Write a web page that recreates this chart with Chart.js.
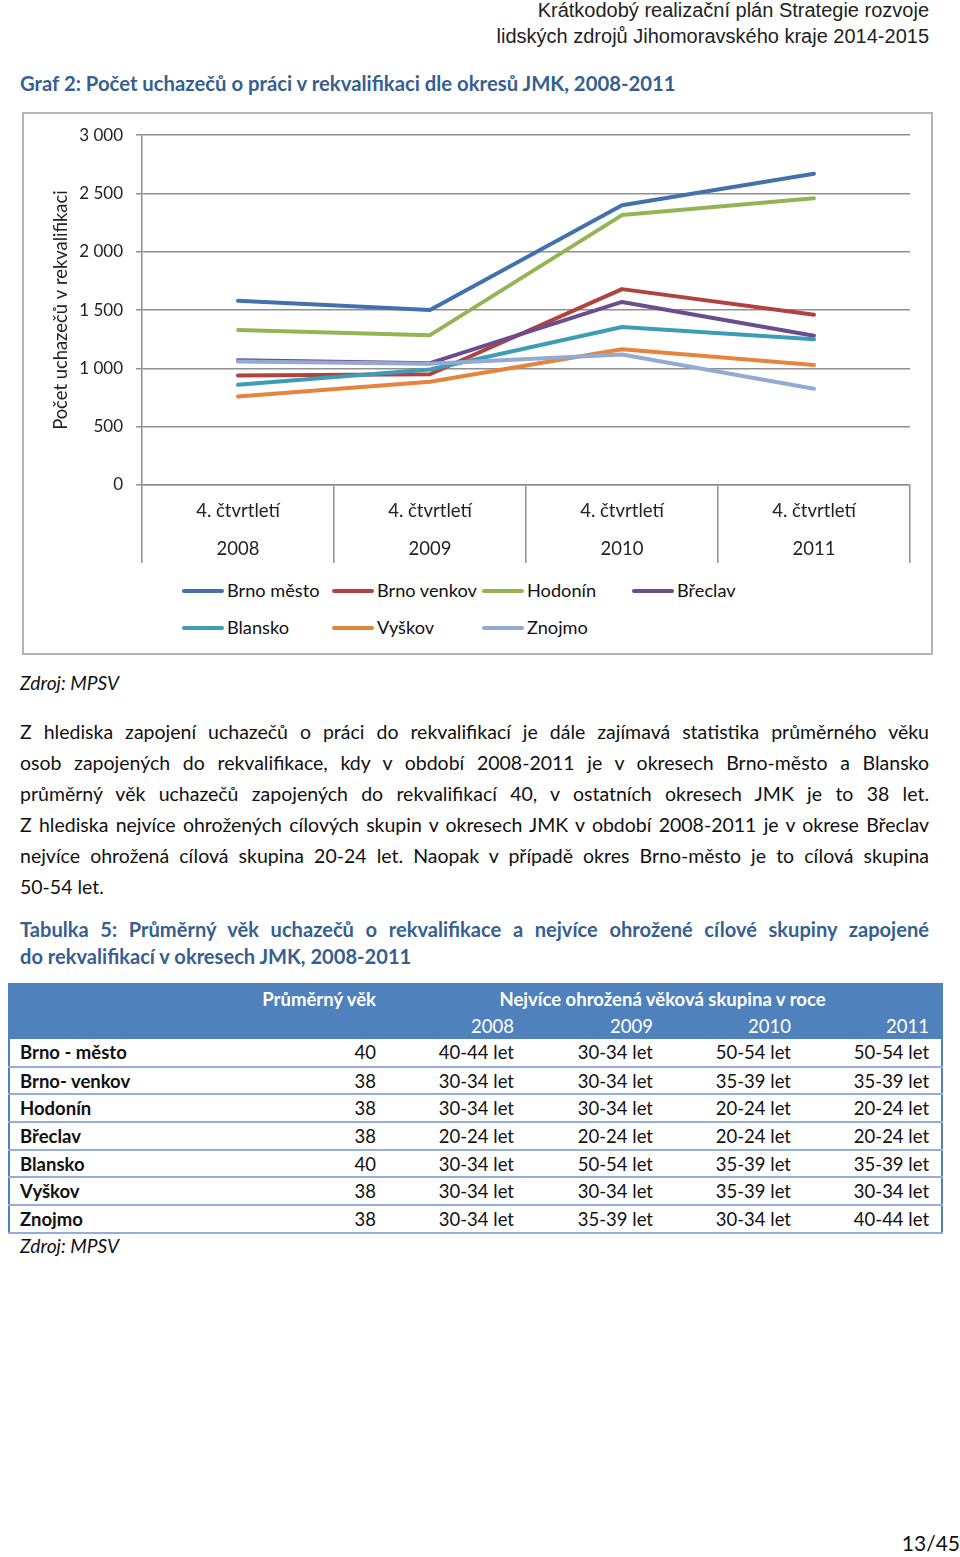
<!DOCTYPE html>
<html lang="cs">
<head>
<meta charset="utf-8">
<script src="https://cdn.jsdelivr.net/npm/chart.js@4.4.0/dist/chart.umd.min.js"></script>
<style>
  html, body { margin: 0; padding: 0; background: #fff; }
  body { width: 960px; height: 1557px; position: relative; overflow: hidden;
         font-family: Lato, "Open Sans", sans-serif; color: #111; }
  .abs { position: absolute; white-space: nowrap; }
  .hdr { right: 31px; font-family: "Liberation Sans Narrow", "Liberation Sans", sans-serif;
         font-size: 20px; line-height: 30px; color: #222; }
  .blue { color: #365F91; font-weight: bold; }
  .src { left: 20px; font-style: italic; font-size: 19.2px; line-height: 30px; }
  #chartBox { position: absolute; left: 22px; top: 112px; width: 907px; height: 539px;
              border: 2px solid #b4b4b4; }
  #chartWrap { position: absolute; left: 22px; top: 112px; width: 911px; height: 460px; }
  #legend { position: absolute; left: 182px; top: 575px; width: 600px; }
  .lg { position: absolute; height: 30px; line-height: 30px; font-size: 18.2px; white-space: nowrap; }
  .lg i { display: inline-block; width: 42px; height: 4px; border-radius: 2px;
          vertical-align: middle; margin-right: 3px; position: relative; top: -1px; }
  #para { position: absolute; left: 20px; top: 716px; width: 909px; font-size: 19.5px; line-height: 31px; }
  #para div { text-align: justify; text-align-last: justify; white-space: nowrap; }
  #para div.last { text-align-last: left; }
  #ttitle { position: absolute; left: 20px; top: 916px; width: 909px; font-size: 20.1px; line-height: 27px; }
  #ttitle div { text-align: justify; text-align-last: justify; white-space: nowrap; }
  #ttitle div.last { text-align-last: left; }
  table { position: absolute; left: 8px; top: 983px; border-collapse: collapse; table-layout: fixed;
          width: 933px; font-size: 18.5px; border: 2px solid #4F81BD; }
  td, th { padding: 0 10px; white-space: nowrap; overflow: visible; line-height: 22px; }
  td:last-child, th:last-child { padding-right: 12px; }
  thead tr { background: #4F81BD; color: #fff; }
  thead tr.r1 { height: 28px; }
  thead tr.r2 { height: 27px; }
  thead th { font-weight: bold; }
  thead tr.r2 th { font-weight: normal; text-align: right; }
  tbody tr { height: 27.7px; border-bottom: 2px solid #93AEDB; }
  tbody td { text-align: right; }
  tbody td.nm { text-align: left; font-weight: bold; padding-left: 10px; }
</style>
</head>
<body>
<div class="abs hdr" style="top:-5px">Krátkodobý realizační plán Strategie rozvoje</div>
<div class="abs hdr" style="top:21px">lidských zdrojů Jihomoravského kraje 2014-2015</div>

<div class="abs blue" style="left:20px; top:68px; font-size:20.3px; line-height:30px">Graf 2: Počet uchazečů o práci v rekvalifikaci dle okresů JMK, 2008-2011</div>

<div id="chartBox"></div>
<div id="chartWrap"><canvas id="chart" width="911" height="460"></canvas></div>
<div id="legend"></div>

<div class="abs src" style="top:668px">Zdroj: MPSV</div>

<div id="para">
  <div>Z hlediska zapojení uchazečů o práci do rekvalifikací je dále zajímavá statistika průměrného věku</div>
  <div>osob zapojených do rekvalifikace, kdy v období 2008-2011 je v okresech Brno-město a Blansko</div>
  <div>průměrný věk uchazečů zapojených do rekvalifikací 40, v ostatních okresech JMK je to 38 let.</div>
  <div>Z hlediska nejvíce ohrožených cílových skupin v okresech JMK v období 2008-2011 je v okrese Břeclav</div>
  <div>nejvíce ohrožená cílová skupina 20-24 let. Naopak v případě okres Brno-město je to cílová skupina</div>
  <div class="last">50-54 let.</div>
</div>

<div id="ttitle" class="blue">
  <div>Tabulka 5: Průměrný věk uchazečů o rekvalifikace a nejvíce ohrožené cílové skupiny zapojené</div>
  <div class="last">do rekvalifikací v okresech JMK, 2008-2011</div>
</div>

<table id="tbl">
  <colgroup>
    <col style="width:232px"><col style="width:145px"><col style="width:138px">
    <col style="width:139px"><col style="width:138px"><col style="width:141px">
  </colgroup>
  <thead></thead>
  <tbody></tbody>
</table>

<div class="abs src" style="top:1231px">Zdroj: MPSV</div>
<div class="abs" style="right:0; top:1528px; font-size:21px; line-height:30px">13/45</div>

<script>
// Chart data: 4th quarter of each year
const years = ['2008', '2009', '2010', '2011'];
const quarterLabel = '4. čtvrtletí';
const districts = ['Brno město', 'Brno venkov', 'Hodonín', 'Břeclav', 'Blansko', 'Vyškov', 'Znojmo'];

const brnoMesto  = [1580, 1500, 2400, 2670];
const brnoVenkov = [940, 950, 1680, 1460];
const hodonin    = [1330, 1285, 2315, 2460];
const breclav    = [1070, 1045, 1570, 1280];
const blansko    = [860, 990, 1355, 1250];
const vyskov     = [760, 885, 1165, 1030];
const znojmo     = [1060, 1040, 1120, 825];

const yTicks = [0, 500, 1000, 1500, 2000, 2500, 3000];

// Table data
const tableYears = ['2008', '2009', '2010', '2011'];
const tableDistricts = ['Brno - město', 'Brno- venkov', 'Hodonín', 'Břeclav', 'Blansko', 'Vyškov', 'Znojmo'];
const avgAge = [40, 38, 38, 38, 40, 38, 38];
const riskGroup2008 = ['40-44 let', '30-34 let', '30-34 let', '20-24 let', '30-34 let', '30-34 let', '30-34 let'];
const riskGroup2009 = ['30-34 let', '30-34 let', '30-34 let', '20-24 let', '50-54 let', '30-34 let', '35-39 let'];
const riskGroup2010 = ['50-54 let', '35-39 let', '20-24 let', '20-24 let', '35-39 let', '35-39 let', '30-34 let'];
const riskGroup2011 = ['50-54 let', '35-39 let', '20-24 let', '20-24 let', '35-39 let', '30-34 let', '40-44 let'];

const seriesValues = [brnoMesto, brnoVenkov, hodonin, breclav, blansko, vyskov, znojmo];
const seriesColors = ['#4271AE', '#B0423F', '#93B553', '#6B4C8E', '#3E9DB6', '#E7843C', '#93AAD2'];

Chart.defaults.font.family = 'Lato, "Open Sans", sans-serif';
Chart.defaults.color = '#222';

const gridColor = '#8f8f8f';

const chart = new Chart(document.getElementById('chart'), {
    type: 'line',
    data: {
        labels: years.map(y => [quarterLabel, y]),
        datasets: districts.map((name, i) => ({
            label: name,
            data: seriesValues[i],
            borderColor: seriesColors[i],
            backgroundColor: seriesColors[i],
            borderWidth: 4,
            borderCapStyle: 'round',
            borderJoinStyle: 'round',
            pointRadius: 0,
            tension: 0,
            order: districts.length - i
        }))
    },
    options: {
        responsive: false,
        animation: false,
        layout: { padding: { left: 28, right: 23, top: 21, bottom: 9 } },
        plugins: {
            legend: { display: false },
            tooltip: { enabled: false }
        },
        scales: {
            x: {
                offset: true,
                grid: {
                    offset: true,
                    drawOnChartArea: false,
                    tickLength: 78,
                    color: gridColor,
                    lineWidth: 1.5
                },
                border: { display: true, color: gridColor, width: 1.5 },
                ticks: {
                    padding: -71,
                    autoSkip: false,
                    maxRotation: 0,
                    color: '#222',
                    font: { size: 18.5, lineHeight: 38 / 18.5 }
                },
                afterFit: function(scale) { scale.height = 78; }
            },
            y: {
                min: 0,
                max: 3000,
                afterBuildTicks: function(scale) {
                    scale.ticks = yTicks.map(v => ({ value: v }));
                },
                grid: { color: gridColor, lineWidth: 1.5, tickLength: 6 },
                border: { display: true, color: gridColor, width: 1.5 },
                ticks: {
                    padding: 13,
                    color: '#222',
                    font: { size: 17 },
                    callback: function(value) {
                        return String(value).replace(/\B(?=(\d{3})+(?!\d))/g, ' ');
                    }
                },
                title: {
                    display: true,
                    text: 'Počet uchazečů v rekvalifikaci',
                    color: '#222',
                    padding: 0,
                    font: { size: 18.4 }
                },
                afterFit: function(scale) { scale.width = 92; }
            }
        }
    }
});

// Legend in a fixed 4-column grid, built from the chart datasets
const legend = document.getElementById('legend');
chart.data.datasets.forEach((ds, i) => {
    const item = document.createElement('div');
    item.className = 'lg';
    item.style.left = (i % 4) * 150 + 'px';
    item.style.top = Math.floor(i / 4) * 37 + 'px';
    item.innerHTML = '<i style="background:' + ds.borderColor + '"></i>' + ds.label;
    legend.appendChild(item);
});

// Table
const thead = document.querySelector('#tbl thead');
thead.innerHTML =
    '<tr class="r1"><th></th><th style="text-align:right">Průměrný věk</th>' +
    '<th colspan="4" style="text-align:center">Nejvíce ohrožená věková skupina v roce</th></tr>' +
    '<tr class="r2"><th></th><th></th>' + tableYears.map(y => '<th>' + y + '</th>').join('') + '</tr>';

const tbody = document.querySelector('#tbl tbody');
tableDistricts.forEach((name, i) => {
    const tr = document.createElement('tr');
    tr.innerHTML = '<td class="nm">' + name + '</td><td>' + avgAge[i] + '</td>' +
        '<td>' + riskGroup2008[i] + '</td><td>' + riskGroup2009[i] + '</td>' +
        '<td>' + riskGroup2010[i] + '</td><td>' + riskGroup2011[i] + '</td>';
    tbody.appendChild(tr);
});
</script>
</body>
</html>
